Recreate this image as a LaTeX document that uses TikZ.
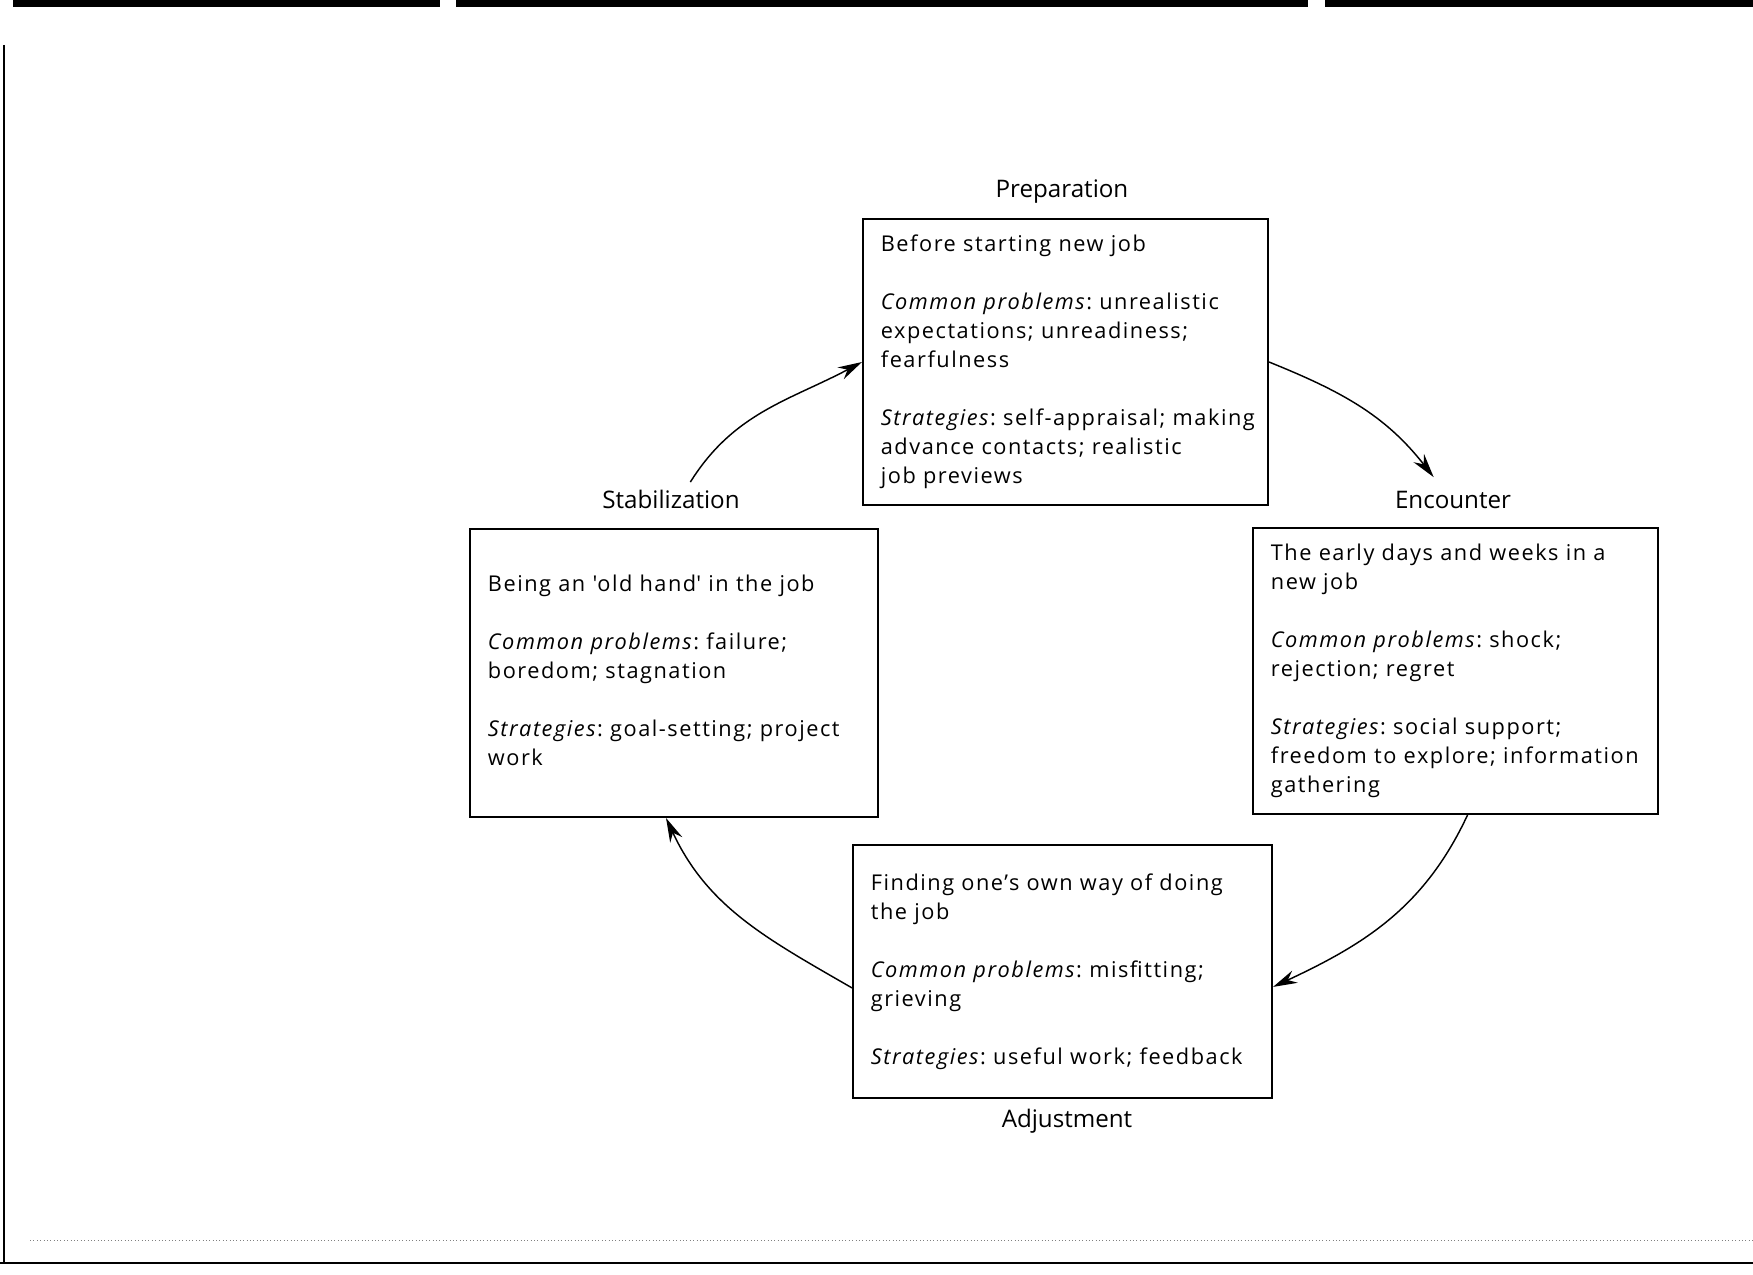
\documentclass[tikz,border=0pt]{standalone}
\usepackage{fontspec}
\setmainfont{Open Sans}
\newfontfamily\stagefont[LetterSpace=7]{Open Sans}
\usetikzlibrary{arrows.meta}

\newcommand{\stagelines}[1]{\begin{tabular}{@{}l@{}}#1\end{tabular}}

\begin{document}
\frenchspacing
\begin{tikzpicture}[x=0.4138pt, y=0.4138pt,
    stage/.style={draw, line width=0.8pt, inner xsep=7.4pt, inner ysep=0pt,
      text width=#1, align=left, font=\stagefont\fontsize{9}{12}\selectfont},
    phase/.style={font=\fontsize{10}{12}\selectfont, anchor=base},
    cycle/.style={line width=0.6pt, -{Stealth[length=10pt, width=5.5pt]}}]
  \useasboundingbox (0,0) rectangle (1753,1275);

  % edges of the scanned page
  \fill (13,1268) rectangle (440,1275);
  \fill (456,1268) rectangle (1308,1275);
  \fill (1325,1268) rectangle (1753,1275);
  \draw [line width=0.8pt] (4,1230) -- (4,12);
  \draw [line width=1.2pt] (0,12) -- (1753,12);
  \draw [gray, line width=0.4pt, densely dotted] (30,35) -- (1753,35);

  \node [stage=152.8pt, minimum height=118.3pt] (prep) at (1065.5,913)
    {\stagelines{Before starting new job\\[12pt]
      \textit{Common problems}: unrealistic\\
      expectations; unreadiness;\\
      fearfulness\\[12pt]
      \textit{Strategies}: self-appraisal; making\\
      advance contacts; realistic\\
      job previews}};
  \node [stage=152.8pt, minimum height=118.3pt] (enc) at (1455.5,604)
    {\stagelines{The early days and weeks in a\\
      new job\\[12pt]
      \textit{Common problems}: shock;\\
      rejection; regret\\[12pt]
      \textit{Strategies}: social support;\\
      freedom to explore; information\\
      gathering}};
  \node [stage=158.6pt, minimum height=104.7pt] (adj) at (1062.5,303.5)
    {\stagelines{Finding one’s own way of doing\\
      the job\\[12pt]
      \textit{Common problems}: misfitting;\\
      grieving\\[12pt]
      \textit{Strategies}: useful work; feedback}};
  \node [stage=154pt, minimum height=119.2pt] (stab) at (674,602)
    {\stagelines{Being an \textquotesingle old hand\textquotesingle\ in the job\\[12pt]
      \textit{Common problems}: failure;\\
      boredom; stagnation\\[12pt]
      \textit{Strategies}: goal-setting; project\\
      work}};

  \node [phase] (preplbl) at (1062,1077) {Preparation};
  \node [phase] (enclbl) at (1453,766) {Encounter};
  \node [phase] (adjlbl) at (1067,147) {Adjustment};
  \node [phase] (stablbl) at (671,766) {Stabilization};

  \draw [cycle] ([xshift=8pt]stablbl.north) to[out=58, in=208] (prep.west);
  \draw [cycle] (prep.east) to[out=-22, in=128] ([xshift=-8pt, yshift=2.5pt]enclbl.north);
  \draw [cycle] ([xshift=5pt]enc.south) to[out=-115, in=25] ([yshift=-6.4pt]adj.east);
  \draw [cycle] ([yshift=-6.8pt]adj.west) to[out=150, in=-65] ([xshift=-3.3pt]stab.south);
\end{tikzpicture}
\end{document}
